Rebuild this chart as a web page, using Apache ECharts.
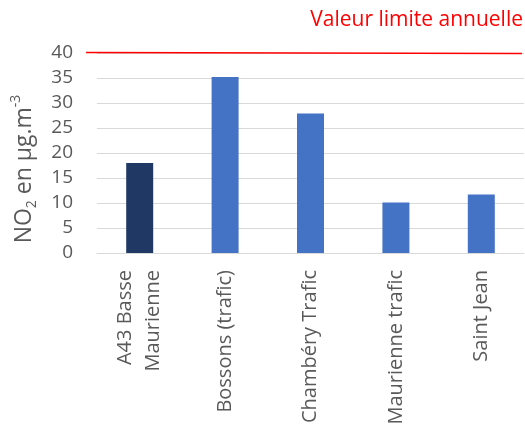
<!DOCTYPE html>
<html>
<head>
<meta charset="utf-8">
<script src="https://cdn.jsdelivr.net/npm/echarts@6/dist/echarts.min.js"></script>
<style>
  html, body { margin: 0; padding: 0; background: #fff; }
  #chart { width: 525px; height: 430px; }
</style>
</head>
<body>
<div id="chart"></div>
<script>
// Annual mean NO2 by measuring station
const stations = ['A43 Basse\nMaurienne', 'Bossons (trafic)', 'Chambéry Trafic', 'Maurienne trafic', 'Saint Jean'];
const no2Values = [18.0, 35.2, 27.9, 10.1, 11.7];
const barColors = ['#203864', '#4472C4', '#4472C4', '#4472C4', '#4472C4'];
const yTicks = [0, 5, 10, 15, 20, 25, 30, 35, 40];
const limitValue = 40;
const limitLabel = 'Valeur limite annuelle';

const FONT = '"Open Sans", sans-serif';
const chart = echarts.init(document.getElementById('chart'));

chart.setOption({
  animation: false,
  backgroundColor: '#ffffff',
  grid: { left: 97, right: 1, top: 53, bottom: 177 },
  xAxis: {
    type: 'category',
    data: stations,
    axisTick: { show: false },
    axisLine: { lineStyle: { color: '#d9d9d9', width: 1 } },
    axisLabel: {
      rotate: 90,
      interval: 0,
      margin: 17,
      color: '#595959',
      fontFamily: FONT,
      fontSize: 20,
      lineHeight: 28
    }
  },
  yAxis: {
    type: 'value',
    min: yTicks[0],
    max: yTicks[yTicks.length - 1],
    interval: yTicks[1] - yTicks[0],
    axisLine: { show: false },
    axisTick: { show: false },
    splitLine: { lineStyle: { color: '#d9d9d9', width: 1 } },
    axisLabel: {
      margin: 24,
      color: '#595959',
      fontFamily: FONT,
      fontSize: 19
    },
    name: '{b|NO}{sub|2}{b| en µg.m}{sup|-3}',
    nameLocation: 'middle',
    nameGap: 58,
    nameTextStyle: {
      padding: [0, 32, 0, 0],
      rich: {
        b: { fontFamily: FONT, fontSize: 23, color: '#595959', lineHeight: 30, verticalAlign: 'middle' },
        sub: { fontFamily: FONT, fontSize: 14, color: '#595959', lineHeight: 30, verticalAlign: 'bottom' },
        sup: { fontFamily: FONT, fontSize: 14, color: '#595959', lineHeight: 30, verticalAlign: 'top' }
      }
    }
  },
  series: [{
    type: 'bar',
    barWidth: '31.6%',
    data: no2Values.map((v, i) => ({ value: v, itemStyle: { color: barColors[i] } }))
  }]
});

// Red annual limit line, positioned from the value axis scale
const limitY = chart.convertToPixel({ yAxisIndex: 0 }, limitValue);
chart.setOption({
  graphic: [
    {
      type: 'line',
      shape: { x1: 86, y1: limitY - 0.5, x2: 522, y2: limitY + 0.5 },
      style: { stroke: '#ff0000', lineWidth: 1.5 },
      z: 10
    },
    {
      type: 'text',
      right: 2,
      top: limitY - 43,
      style: {
        text: limitLabel,
        fill: '#ff0000',
        font: '21px ' + FONT
      },
      z: 10
    }
  ]
});
</script>
</body>
</html>
